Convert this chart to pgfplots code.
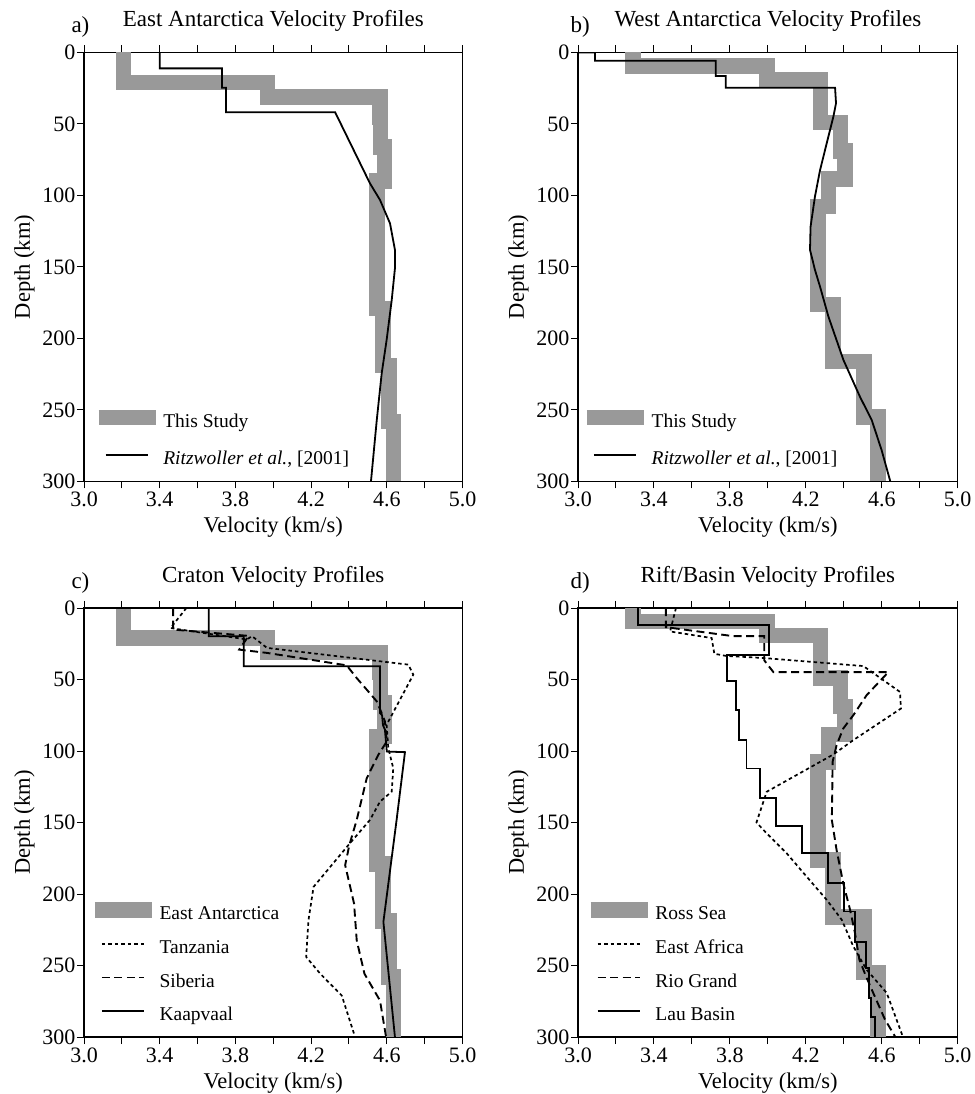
\documentclass[border=0pt]{standalone}
\usepackage{fontspec}
\setmainfont{Liberation Serif}
\usepackage{pgfplots}
\pgfplotsset{compat=1.18}
\definecolor{bandgray}{gray}{0.6}

\pgfplotsset{
  panel tag/.initial={},
  profile/.style={
    scale only axis, height=429pt,
    xmin=3, xmax=5, ymin=0, ymax=300, y dir=reverse,
    xtick={3.0,3.4,3.8,4.2,4.6,5.0},
    minor xtick={3.2,3.6,4.0,4.4,4.8},
    ytick={0,50,100,150,200,250,300},
    xtick pos=both, xticklabel pos=lower, ytick pos=left,
    tick align=outside,
    major tick length=7pt, minor tick length=7pt,
    every tick/.style={black, line width=1pt},
    axis line style={black, line width=1.3pt},
    /pgf/number format/assume math mode=true,
    xticklabel style={/pgf/number format/fixed, /pgf/number format/fixed zerofill, /pgf/number format/precision=1},
    yticklabel style={inner xsep=1.5pt},
    tick label style={font=\fontsize{22}{24}\selectfont},
    label style={font=\fontsize{22.5}{26}\selectfont},
    xlabel={Velocity (km/s)}, ylabel={Depth (km)},
    xlabel style={at={(0.5,0)}, anchor=base, yshift=-51pt},
    ylabel style={at={(-0.1427,0.5)}, anchor=base},
    title style={at={(0.5,1)}, anchor=base, yshift=19.5pt, font=\fontsize{23}{26}\selectfont},
    legend cell align=left,
    legend style={draw=none, fill=none, inner sep=0pt, outer sep=0pt, anchor=north west,
      font=\fontsize{19.5}{22}\selectfont, column sep=0pt,
      nodes={inner sep=0pt, text height=13pt, text depth=4pt}},
  },
  panel label/.style={extra description/.code={
    \node[anchor=base west, font=\fontsize{23}{26}\selectfont, xshift=#1, yshift=19.5pt] at (0,1) {\pgfkeysvalueof{/pgfplots/panel tag}};}},
  band/.style={bandgray, line width=15.5pt, line join=miter, line cap=butt,
    legend image code/.code={\draw[##1] (0pt,5.3pt) -- (57pt,5.3pt);}},
  prof/.style={black, line width=1.8pt, line join=miter,
    legend image code/.code={\path[draw=none, fill=none] (0pt,0pt) -- (57pt,0pt); \draw[##1] (7pt,5.3pt) -- (49pt,5.3pt);}},
  shortdash/.style={prof, line width=1.7pt, dash pattern=on 3.5pt off 3pt},
  longdash/.style={prof, line width=1.9pt, dash pattern=on 8pt off 4.5pt},
}

% Layered shear-velocity models (velocity in km/s, depth in km)
\newcommand{\EastAntarctica}{(3.21,0)(3.21,21)(3.97,21)(3.97,31)(4.563,31)(4.563,45)(4.568,45)(4.568,66)(4.587,66)(4.587,90)(4.547,90)(4.547,179)(4.58,179)(4.58,219)(4.612,219)(4.612,258)(4.636,258)(4.636,300)}
\newcommand{\WestAntarctica}{(3.289,0)(3.289,9.6)(3.996,9.6)(3.996,19.3)(4.276,19.3)(4.276,49)(4.383,49)(4.383,68.8)(4.405,68.8)(4.405,88.3)(4.320,88.3)(4.320,107.8)(4.263,107.8)(4.263,176.3)(4.343,176.3)(4.343,216)(4.506,216)(4.506,255)(4.581,255)(4.581,300)}

\begin{document}
\begin{tikzpicture}
\useasboundingbox (0pt,0pt) rectangle (974pt,1094pt);

% a) East Antarctica
\begin{axis}[profile, width=378.5pt, at={(84pt,612.5pt)}, anchor=south west,
  title={East Antarctica Velocity Profiles},
  panel tag={a)}, panel label=-16pt,
  legend style={at={(0.018,0.1667)}, row sep={37pt,between origins}}]
\addplot[band] coordinates {\EastAntarctica};
\addlegendentry{This Study}
\addplot[prof] coordinates {(3.40,0)(3.40,11.1)(3.729,11.1)(3.729,24.6)(3.750,24.6)(3.750,41.8)(4.327,41.8)(4.511,91.5)(4.564,103.1)(4.617,119.5)(4.643,138)(4.643,151)(4.626,173.1)(4.599,201.1)(4.573,224.4)(4.547,257)(4.517,299)(4.516,300)};
\addlegendentry{\textit{Ritzwoller et al.}, [2001]}
\end{axis}

% b) West Antarctica
\begin{axis}[profile, width=379.7pt, at={(578pt,612.5pt)}, anchor=south west,
  title={West Antarctica Velocity Profiles},
  panel tag={b)}, panel label=-11pt,
  legend style={at={(0.003,0.1667)}, row sep={37pt,between origins}}]
\addplot[band] coordinates {\WestAntarctica};
\addlegendentry{This Study}
\addplot[prof] coordinates {(3.0,0)(3.09,0)(3.09,5.8)(3.725,5.8)(3.725,16.4)(3.778,16.4)(3.778,24.6)(4.354,24.6)(4.359,35.5)(4.345,44.9)(4.310,63.5)(4.275,82.2)(4.248,100.8)(4.225,121.8)(4.222,138)(4.248,152)(4.275,163.8)(4.319,184.7)(4.398,215)(4.485,240.7)(4.547,257)(4.599,278)(4.643,299)(4.645,300)};
\addlegendentry{\textit{Ritzwoller et al.}, [2001]}
\end{axis}

% c) Cratons
\begin{axis}[profile, width=378.5pt, at={(84pt,57pt)}, anchor=south west,
  title={Craton Velocity Profiles},
  panel tag={c)}, panel label=-16pt,
  legend style={at={(0.008,0.314)}, row sep={33.7pt,between origins}}]
\addplot[band] coordinates {\EastAntarctica};
\addlegendentry{East Antarctica}
\addplot[shortdash] coordinates {(3.541,0)(3.457,14)(3.86,22)(3.888,19.7)(3.967,27.9)(4.714,39.6)(4.740,46.6)(4.599,81.7)(4.608,98)(4.634,112)(4.626,128.4)(4.564,135.4)(4.511,148.2)(4.397,165.8)(4.213,195)(4.186,218.4)(4.174,244)(4.248,255.7)(4.362,271)(4.427,297.8)(4.43,300)};
\addlegendentry{Tanzania}
\addplot[longdash] coordinates {(3.471,0)(3.471,15.1)(3.87,19.5)(3.82,29.1)(3.967,31.4)(4.388,40.1)(4.441,49)(4.494,57.1)(4.547,65.3)(4.573,73.5)(4.59,79.3)(4.60,93.3)(4.555,102.7)(4.494,119)(4.441,148.2)(4.402,165.8)(4.380,179.8)(4.427,206.7)(4.441,232.4)(4.482,255.8)(4.564,274.5)(4.596,300)};
\addlegendentry{Siberia}
\addplot[prof] coordinates {(3.0,0)(3.659,0)(3.659,19.7)(3.844,19.7)(3.844,40.8)(4.564,40.8)(4.564,73.5)(4.575,75)(4.58,82)(4.59,85)(4.60,100.4)(4.696,100.8)(4.652,148)(4.582,219.5)(4.643,300)};
\addlegendentry{Kaapvaal}
\end{axis}

% d) Rifts and basins
\begin{axis}[profile, width=379.7pt, at={(578pt,57pt)}, anchor=south west,
  title={Rift/Basin Velocity Profiles},
  panel tag={d)}, panel label=-11pt,
  legend style={at={(0.013,0.314)}, row sep={33.7pt,between origins}}]
\addplot[band] coordinates {\WestAntarctica};
\addlegendentry{Ross Sea}
\addplot[shortdash] coordinates {(3.516,0)(3.485,16.4)(3.704,21.0)(3.718,32)(3.78,33.5)(3.98,35)(4.503,40.6)(4.696,58.7)(4.701,70.3)(4.450,92.4)(4.345,102.4)(3.994,128.5)(3.94,150)(3.994,157.6)(4.099,171.5)(4.204,187.8)(4.310,204.1)(4.389,218)(4.450,236.6)(4.520,252.9)(4.626,269.2)(4.710,299.4)(4.711,300)};
\addlegendentry{East Africa}
\addplot[longdash] coordinates {(3.463,0)(3.463,13.4)(3.818,19.7)(3.981,19.7)(3.981,36.6)(4.029,44.8)(4.635,44.8)(4.520,61)(4.450,75)(4.397,84.3)(4.362,95.9)(4.341,107.6)(4.339,130.8)(4.337,148.3)(4.362,169.2)(4.397,192.4)(4.433,211)(4.459,227.3)(4.482,245.9)(4.517,257.6)(4.555,269.2)(4.617,287.8)(4.669,299.4)(4.671,300)};
\addlegendentry{Rio Grand}
\addplot[prof] coordinates {(3.318,0)(3.318,11.7)(4.008,11.7)(4.008,32.7)(3.783,32.7)(3.783,51.3)(3.832,51.3)(3.832,71.5)(3.848,71.5)(3.848,92.4)(3.888,92.4)(3.888,112.2)(3.959,112.2)(3.959,132.7)(4.043,132.7)(4.043,152.4)(4.178,152.4)(4.178,171.5)(4.318,171.5)(4.318,192.4)(4.403,192.4)(4.403,212.2)(4.459,212.2)(4.459,233.8)(4.515,233.8)(4.515,251.7)(4.534,251.7)(4.534,272.7)(4.545,272.7)(4.545,285.9)(4.563,285.9)(4.563,300)};
\addlegendentry{Lau Basin}
\end{axis}
\end{tikzpicture}
\end{document}
